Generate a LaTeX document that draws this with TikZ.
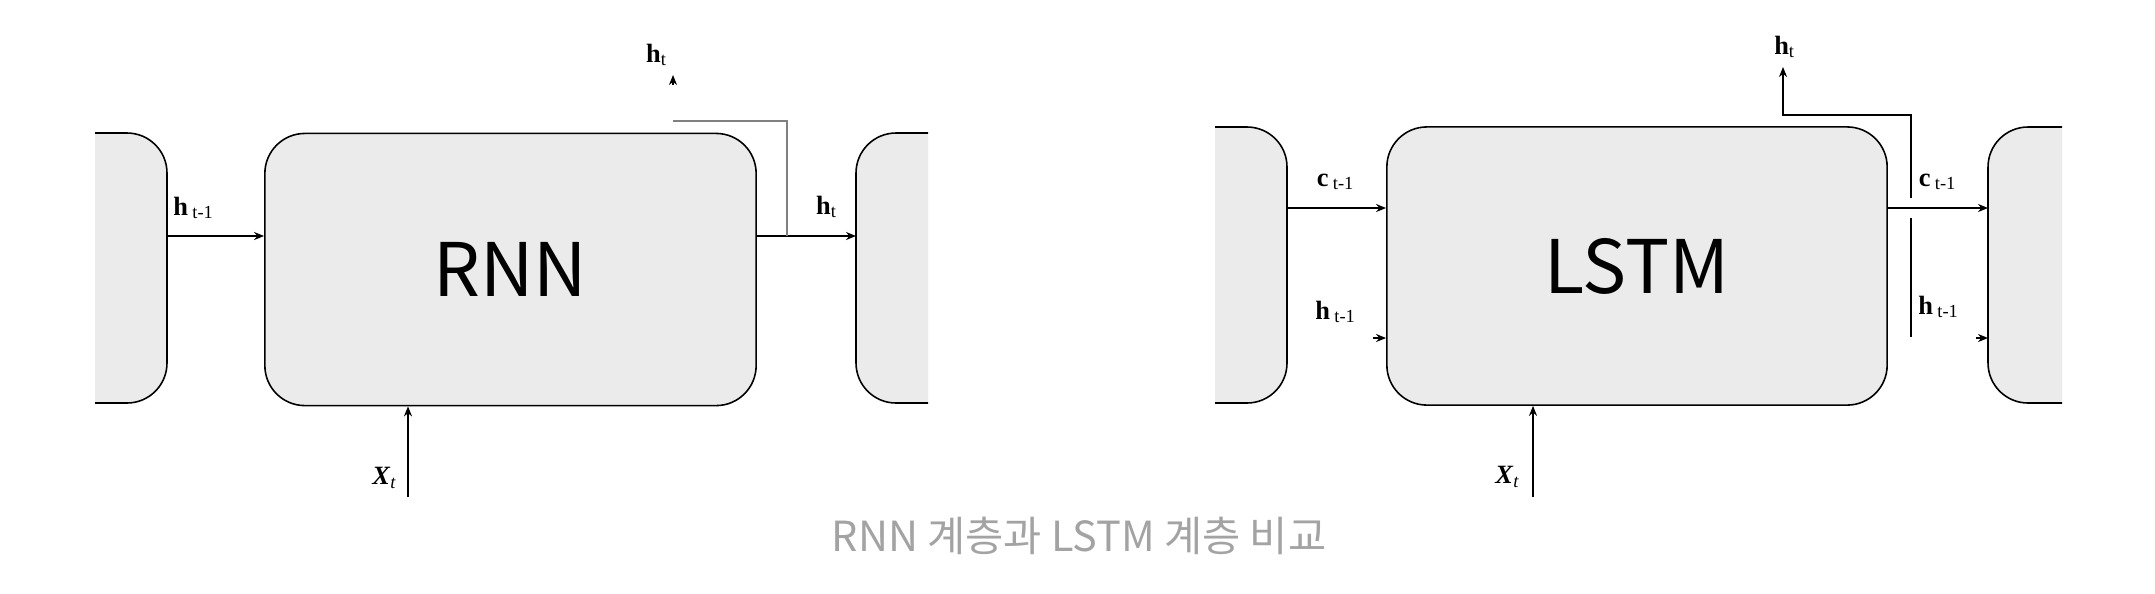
\documentclass[tikz,border=0pt]{standalone}
\usepackage{fontspec}
\usepackage{xcolor}
\usepackage{tikz}
\usetikzlibrary{arrows.meta,positioning,calc}
\setmainfont{Liberation Serif}
\newfontfamily\krfont{Noto Sans CJK KR}
\definecolor{cellGray}{HTML}{EBEBEB}
\definecolor{capGray}{HTML}{A3A3A3}
\definecolor{wireGray}{HTML}{808080}

\begin{document}
\begin{tikzpicture}[x=0.01cm, y=-0.01cm, >={Stealth[length=1mm,width=0.8mm]},
  cell/.style={draw, fill=cellGray, rounded corners=0.4cm, line width=0.45pt, inner sep=0pt},
  part/.style={draw, fill=cellGray, rounded corners=0.4cm, line width=0.45pt},
  big/.style={font=\krfont\fontsize{21}{24}\selectfont},
  lbl/.style={font=\fontsize{7.5}{8.5}\selectfont, inner sep=0pt},
  wire/.style={->, line width=0.5pt}]
\useasboundingbox (0,0) rectangle (2155,593);
% ---- left: RNN ----
\draw[part] (95,133) -- (167,133) -- (167,403) -- (95,403);
\node[cell, big, minimum width=4.91cm, minimum height=2.72cm] (rnn) at (510.5,269.5) {RNN};
\draw[part] (928,133) -- (856,133) -- (856,403) -- (928,403);
\coordinate (rprev) at (167,236);
\coordinate (rnext) at (856,236);
\coordinate (rbr) at (787,236);
\coordinate (rup) at (673,121);
\coordinate (rtip) at (673,75);
\coordinate (rx) at (408,497);
\draw[wire] (rprev) -- (rprev -| rnn.west);
\draw[wire] (rnn.east |- rnext) -- (rnext);
\draw[wireGray, line width=0.8pt] (rbr) |- (rup);
\draw[wire] ($(rtip)+(0,10)$) -- (rtip);
\draw[wire] (rx) -- (rx |- rnn.south);
\node[lbl] (rhin) at (194,208) {\textbf{h}\,\textsubscript{t-1}};
\node[lbl] (rhout) at (827,207) {\textbf{h}\textsubscript{t}};
\node[lbl] (rhtop) at (657,55) {\textbf{h}\textsubscript{t}};
\node[lbl] (rxin) at (385,478) {\textbf{\textit{X}}\textsubscript{\textit{t}}};
% ---- right: LSTM ----
\draw[part] (1215,127) -- (1287,127) -- (1287,403) -- (1215,403);
\node[cell, big, minimum width=5.00cm, minimum height=2.78cm] (lstm) at (1637,266) {LSTM};
\draw[part] (2062,127) -- (1988,127) -- (1988,403) -- (2062,403);
\coordinate (lcin) at (1287,208);
\coordinate (lhin) at (1373,338);
\coordinate (lcout) at (1988,208);
\coordinate (lhout) at (1988,338);
\coordinate (lbr) at (1911,337);
\coordinate (lgap) at (1911,218);
\coordinate (lgap2) at (1911,198);
\coordinate (lcorner) at (1911,115);
\coordinate (ltip) at (1783,67);
\coordinate (lx) at (1533,497);
\draw[wire] (lcin) -- (lcin -| lstm.west);
\draw[wire] (lhin) -- (lhin -| lstm.west);
\draw[wire] (lstm.east |- lcout) -- (lcout);
\draw[wire] ($(lhout)+(-12,0)$) -- (lhout);
\draw[line width=0.5pt] (lbr) -- (lgap);
\draw[wire] (lgap2) -- (lcorner) -| (ltip);
\draw[wire] (lx) -- (lx |- lstm.south);
\node[lbl] (lcinl) at (1336,182) {\textbf{c}\,\textsubscript{t-1}};
\node[lbl] (lhinl) at (1336,312) {\textbf{h}\,\textsubscript{t-1}};
\node[lbl] (lcoutl) at (1938,182) {\textbf{c}\,\textsubscript{t-1}};
\node[lbl] (lhoutl) at (1939,307) {\textbf{h}\,\textsubscript{t-1}};
\node[lbl] (lhtop) at (1785,47) {\textbf{h}\textsubscript{t}};
\node[lbl] (lxin) at (1508,477) {\textbf{\textit{X}}\textsubscript{\textit{t}}};
% ---- caption ----
\node[font=\krfont\fontsize{11.8}{13}\selectfont, text=capGray] (cap) at (1079,536) {RNN 계층과 LSTM 계층 비교};
\end{tikzpicture}
\end{document}
